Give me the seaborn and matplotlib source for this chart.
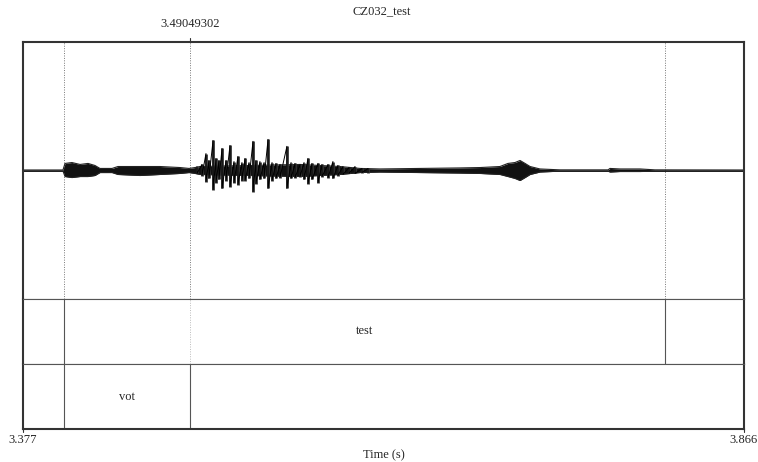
import matplotlib
matplotlib.use("Agg")
import matplotlib.pyplot as plt
import seaborn as sns
import pandas as pd

# Time window and interval boundaries (s)
t_start = 3.377
t_end = 3.866
cursor_time = 3.49049302
test_bounds = [3.4048, 3.8123]
vot_bounds = [3.4048, 3.49049302]

# Noise envelope of the waveform (time, upper, lower amplitude)
env_time = [3.3770, 3.4041, 3.4055, 3.4102, 3.4157, 3.4211, 3.4258, 3.4292,
            3.4374, 3.4414, 3.4564, 3.4699, 3.4835, 3.4896, 3.4937, 3.4970,
            3.5310, 3.5649, 3.5920, 3.6056, 3.6191, 3.6463, 3.6734, 3.6870,
            3.7005, 3.7059, 3.7107, 3.7141, 3.7175, 3.7209, 3.7276, 3.7412,
            3.7738, 3.7751, 3.7819, 3.7955, 3.8056, 3.8660]
env_hi = [0.004, 0.004, 0.055, 0.062, 0.047, 0.055, 0.039, 0.016,
          0.016, 0.031, 0.031, 0.031, 0.023, 0.016, 0.023, 0.031,
          0.039, 0.047, 0.031, 0.016, 0.012, 0.016, 0.020, 0.023,
          0.031, 0.055, 0.062, 0.078, 0.055, 0.031, 0.012, 0.005,
          0.005, 0.016, 0.012, 0.012, 0.005, 0.004]
env_lo = [-0.004, -0.004, -0.047, -0.055, -0.047, -0.047, -0.039, -0.016,
          -0.016, -0.031, -0.039, -0.031, -0.023, -0.016, -0.023, -0.031,
          -0.039, -0.047, -0.031, -0.016, -0.012, -0.016, -0.020, -0.023,
          -0.031, -0.047, -0.062, -0.078, -0.055, -0.031, -0.012, -0.005,
          -0.005, -0.012, -0.008, -0.008, -0.005, -0.004]

# Glottal pulses in the voiced part (time, peak, trough)
pulse_time = [3.4950, 3.4984, 3.5011, 3.5031, 3.5059, 3.5079, 3.5099, 3.5120,
              3.5147, 3.5174, 3.5201, 3.5228, 3.5255, 3.5276, 3.5303, 3.5330,
              3.5350, 3.5377, 3.5405, 3.5432, 3.5459, 3.5486, 3.5513, 3.5560,
              3.5588, 3.5615, 3.5649, 3.5676, 3.5703, 3.5730, 3.5771, 3.5798,
              3.5839, 3.5872, 3.5906, 3.5940, 3.5981, 3.6022, 3.6069, 3.6110]
pulse_hi = [0.031, 0.047, 0.132, 0.078, 0.234, 0.094, 0.078, 0.172,
            0.078, 0.195, 0.070, 0.109, 0.062, 0.094, 0.062, 0.227,
            0.078, 0.070, 0.062, 0.242, 0.062, 0.055, 0.047, 0.188,
            0.062, 0.055, 0.047, 0.062, 0.094, 0.055, 0.055, 0.047,
            0.047, 0.070, 0.039, 0.031, 0.023, 0.031, 0.016, 0.016]
pulse_lo = [-0.023, -0.039, -0.086, -0.062, -0.148, -0.094, -0.070, -0.140,
            -0.078, -0.125, -0.094, -0.109, -0.078, -0.078, -0.062, -0.164,
            -0.102, -0.070, -0.062, -0.140, -0.078, -0.062, -0.055, -0.140,
            -0.062, -0.055, -0.047, -0.070, -0.102, -0.070, -0.094, -0.047,
            -0.055, -0.062, -0.039, -0.031, -0.023, -0.023, -0.016, -0.016]

tier_labels = ["test", "vot"]

env_df = pd.DataFrame({"time": env_time, "hi": env_hi, "lo": env_lo})

# zig-zag path through each pulse: peak then trough
zz_time, zz_amp = [], []
for t, h, l in zip(pulse_time, pulse_hi, pulse_lo):
    zz_time += [t, t]
    zz_amp += [h, l]
zz_df = pd.DataFrame({"time": zz_time, "amp": zz_amp})

sns.set_theme(style="white")
plt.rcParams["font.family"] = ["Liberation Serif", "DejaVu Serif"]

fig = plt.figure(figsize=(7.58, 4.62), dpi=100)
left, right = 23 / 758, 744 / 758
y_top, y_t1, y_t2, y_bot = 42 / 462, 299 / 462, 364 / 462, 429 / 462
ax_w = fig.add_axes([left, 1 - y_t1, right - left, y_t1 - y_top])
ax_1 = fig.add_axes([left, 1 - y_t2, right - left, y_t2 - y_t1])
ax_2 = fig.add_axes([left, 1 - y_bot, right - left, y_bot - y_t2])

for ax in (ax_w, ax_1, ax_2):
    ax.set_xlim(t_start, t_end)
    ax.set_xticks([])
    ax.set_yticks([])
    ax.set_facecolor("white")
    for s in ax.spines.values():
        s.set_color("#555555")
        s.set_linewidth(0.8)
    ax.spines["left"].set_linewidth(1.5)
    ax.spines["right"].set_linewidth(1.5)
    ax.spines["left"].set_color("#333333")
    ax.spines["right"].set_color("#333333")
ax_w.spines["top"].set_linewidth(1.5)
ax_w.spines["top"].set_color("#333333")
ax_2.spines["bottom"].set_linewidth(1.5)
ax_2.spines["bottom"].set_color("#333333")

# waveform
ax_w.set_ylim(-1, 1)
ax_w.axhline(0, color="#333333", lw=0.7, zorder=1)
ax_w.fill_between(env_df["time"], env_df["lo"], env_df["hi"], color="#111111", lw=0, zorder=2)
sns.lineplot(data=env_df, x="time", y="hi", ax=ax_w, color="#222222", lw=0.8, zorder=2)
sns.lineplot(data=env_df, x="time", y="lo", ax=ax_w, color="#222222", lw=0.8, zorder=2)
ax_w.vlines(pulse_time, pulse_lo, pulse_hi, color="#333333", lw=2.0, zorder=3)
sns.lineplot(data=zz_df, x="time", y="amp", ax=ax_w, sort=False, estimator=None,
             color="black", lw=0.7, zorder=4)
ax_w.set_xlabel("")
ax_w.set_ylabel("")
ax_w.set_xlim(t_start, t_end)

for t in [test_bounds[0], cursor_time, test_bounds[1]]:
    ax_w.axvline(t, color="#777777", lw=0.7, ls=(0, (1, 1.5)), zorder=0)
ax_1.axvline(cursor_time, color="#bbbbbb", lw=0.7, ls=(0, (1, 1.5)), zorder=0)

# tiers
ax_1.set_ylim(0, 1)
ax_2.set_ylim(0, 1)
for t in test_bounds:
    ax_1.axvline(t, color="#555555", lw=0.8)
for t in vot_bounds:
    ax_2.axvline(t, color="#555555", lw=0.8)
ax_1.text(sum(test_bounds) / 2, 0.5, tier_labels[0], ha="center", va="center", fontsize=9)
ax_2.text(sum(vot_bounds) / 2, 0.5, tier_labels[1], ha="center", va="center", fontsize=9)

# cursor label and tick on top
ax_w.plot([cursor_time, cursor_time], [1.0, 1.03], color="#333333", lw=0.8, clip_on=False)
ax_w.text(cursor_time, 1.045, f"{cursor_time:.8f}", ha="center", va="bottom", fontsize=9,
          transform=ax_w.get_xaxis_transform())

# bottom labels
ax_2.plot([t_start, t_start], [0, -0.05], color="#333333", lw=0.8, clip_on=False)
ax_2.plot([t_end, t_end], [0, -0.05], color="#333333", lw=0.8, clip_on=False)
fig.text(left, 1 - 440 / 462, f"{t_start:.3f}", ha="center", va="center", fontsize=9)
fig.text(right, 1 - 440 / 462, f"{t_end:.3f}", ha="center", va="center", fontsize=9)
fig.text((left + right) / 2, 1 - 455 / 462, "Time (s)", ha="center", va="center", fontsize=9)
fig.text((left + right) / 2 - 0.002, 1 - 11 / 462, "CZ032_test", ha="center", va="center", fontsize=9)

fig.savefig("out.png", dpi=100, facecolor="white")
